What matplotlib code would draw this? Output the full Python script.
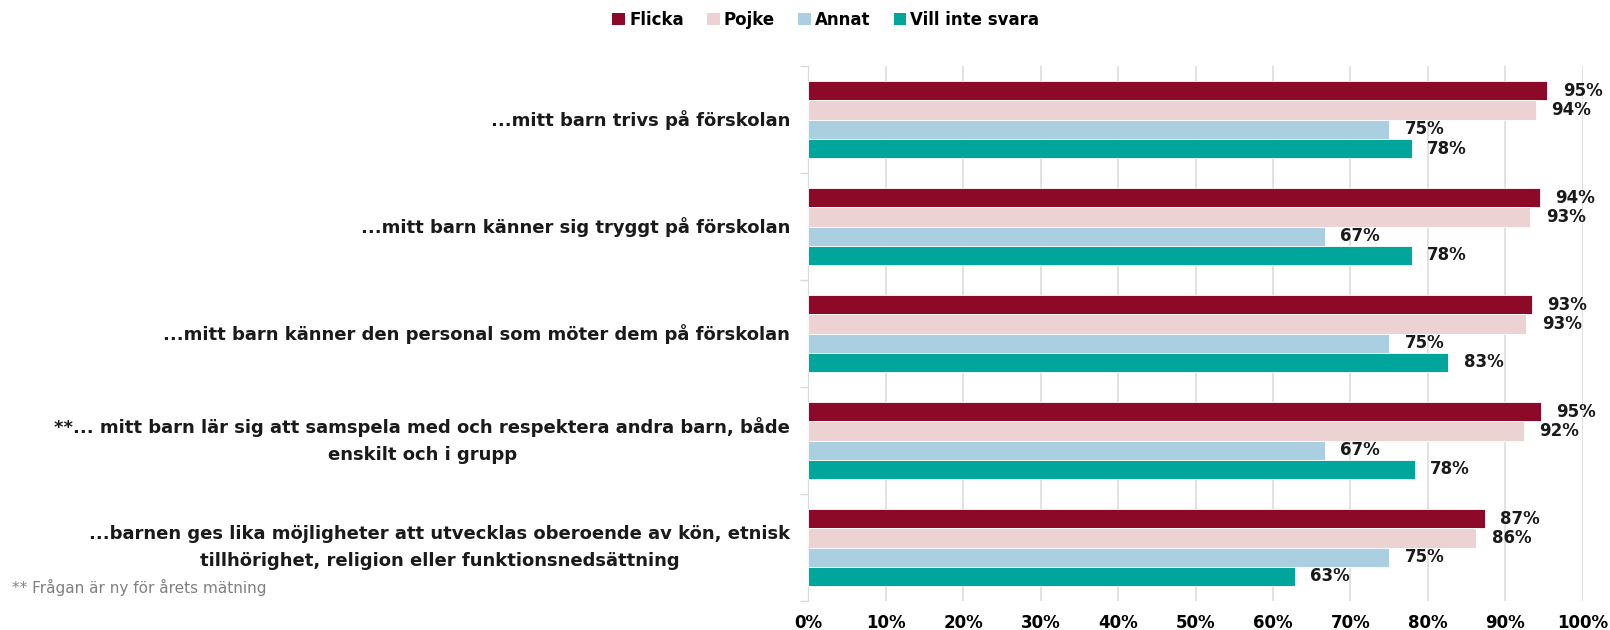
import matplotlib
matplotlib.use('Agg')
import matplotlib.pyplot as plt
import numpy as np
from matplotlib.patches import Patch

# Data
questions = [
    '...mitt barn trivs på förskolan',
    '...mitt barn känner sig tryggt på förskolan',
    '...mitt barn känner den personal som möter dem på förskolan',
    '**... mitt barn lär sig att samspela med och respektera andra barn, både\nenskilt och i grupp',
    '...barnen ges lika möjligheter att utvecklas oberoende av kön, etnisk\ntillhörighet, religion eller funktionsnedsättning',
]
series = ['Flicka', 'Pojke', 'Annat', 'Vill inte svara']
flicka = [95.4, 94.4, 93.4, 94.6, 87.3]
pojke = [93.9, 93.2, 92.7, 92.4, 86.2]
annat = [75.0, 66.7, 75.0, 66.7, 75.0]
vill_inte = [77.9, 77.9, 82.6, 78.3, 62.8]
xticks = [0, 10, 20, 30, 40, 50, 60, 70, 80, 90, 100]
footnote = '** Frågan är ny för årets mätning'

colors = ['#8C0A28', '#ECD2D2', '#AACFE1', '#00A59C']
values = [flicka, pojke, annat, vill_inte]

fig = plt.figure(figsize=(16.1, 6.3), dpi=100)
ax = fig.add_axes([0.5019, 0.046, 0.4813, 0.849])

n = len(questions)
y = np.arange(n)
bar_h = 0.18
for i, (name, vals, c) in enumerate(zip(series, values, colors)):
    ypos = y + (i - 1.5) * bar_h
    ax.barh(ypos, vals, height=bar_h, color=c, edgecolor='white', linewidth=0.6, zorder=3)
    for yy, v in zip(ypos, vals):
        ax.text(v + 2.0, yy, f'{v:.0f}%', va='center', ha='left',
                fontsize=12, fontweight='bold', color='#1a1a1a', zorder=4)

ax.set_xlim(0, 100)
ax.set_ylim(n - 0.5, -0.5)
ax.set_xticks(xticks)
ax.set_xticklabels([f'{t}%' for t in xticks], fontsize=12, fontweight='bold',
                   family=['Liberation Sans Narrow', 'DejaVu Sans'])
ax.tick_params(axis='x', length=0, pad=9)
ax.grid(axis='x', color='#DDDDDD', linewidth=1.2, zorder=0)

# category ticks at boundaries
ax.set_yticks(np.arange(n + 1) - 0.5, minor=True)
ax.set_yticks(y)
ax.set_yticklabels(questions, fontsize=13, fontweight='bold', color='#1a1a1a',
                   multialignment='center', linespacing=1.7, va='center')
ax.tick_params(axis='y', which='major', length=0, pad=13)
ax.tick_params(axis='y', which='minor', length=6, color='#D9D9D9', width=1)

for s in ['top', 'right', 'bottom']:
    ax.spines[s].set_visible(False)
ax.spines['left'].set_color('#D9D9D9')

handles = [Patch(facecolor=c, label=s) for s, c in zip(series, colors)]
fig.legend(handles=handles, loc='upper center', bbox_to_anchor=(0.513, 1.007), ncol=4,
           frameon=False, handlelength=0.75, handleheight=0.75, handletextpad=0.25,
           columnspacing=1.4, prop={'size': 12, 'weight': 'bold'})

fig.text(0.0075, 0.067, footnote, fontsize=11, color='#808080', va='center', ha='left')

fig.savefig('out.png', dpi=100)
